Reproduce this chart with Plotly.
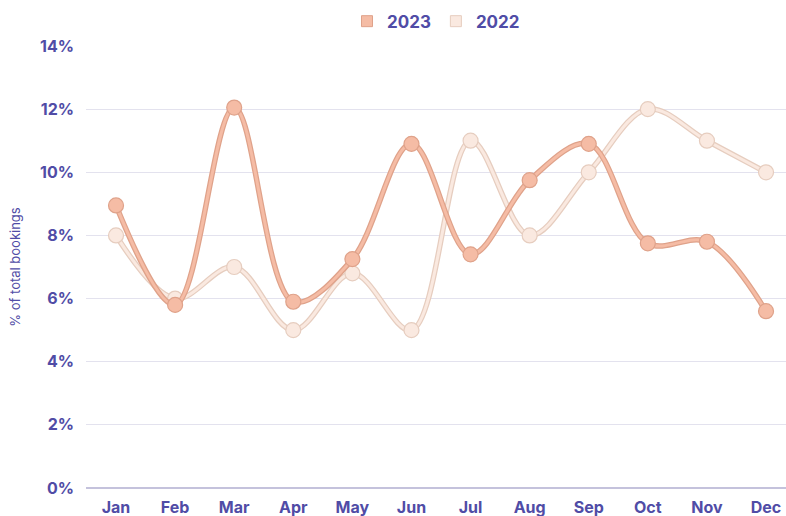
import plotly.graph_objects as go

months = ["Jan", "Feb", "Mar", "Apr", "May", "Jun", "Jul", "Aug", "Sep", "Oct", "Nov", "Dec"]
y2023 = [8.95, 5.8, 12.05, 5.9, 7.25, 10.9, 7.4, 9.75, 10.9, 7.75, 7.8, 5.6]
y2022 = [8.0, 6.0, 7.0, 5.0, 6.8, 5.0, 11.0, 8.0, 10.0, 12.0, 11.0, 10.0]
yticks = [0, 2, 4, 6, 8, 10, 12, 14]
yticklabels = ["0%", "2%", "4%", "6%", "8%", "10%", "12%", "14%"]

x = list(range(len(months)))
txt = "#504ca6"
font = "Inter"

fig = go.Figure()

series = [
    ("2022", y2022, "#fae9e0", "#e6cdbf"),
    ("2023", y2023, "#f5bca5", "#dfa28a"),
]
for name, ys, fill, edge in series:
    fig.add_trace(go.Scatter(x=x, y=ys, mode="lines", line=dict(color=edge, width=5.5, shape="spline", smoothing=1.0),
                             showlegend=False, hoverinfo="skip"))
    fig.add_trace(go.Scatter(x=x, y=ys, mode="lines+markers", name=name,
                             line=dict(color=fill, width=3, shape="spline", smoothing=1.0),
                             marker=dict(size=15, color=fill, line=dict(color=edge, width=1.2)),
                             showlegend=False))

# legend entries
for name, fill, edge in [("2023", "#f5bca5", "#dfa28a"), ("2022", "#fae9e0", "#e6cdbf")]:
    fig.add_trace(go.Scatter(x=[None], y=[None], mode="markers", name=name,
                             marker=dict(symbol="square", size=11, color=fill, line=dict(color=edge, width=1))))

fig.update_layout(
    width=786, height=516,
    margin=dict(l=86, r=0, t=46, b=28, autoexpand=False),
    paper_bgcolor="white", plot_bgcolor="white",
    font=dict(family=font, color=txt),
    legend=dict(orientation="h", x=0.5, xanchor="center", y=0.993, yanchor="top", yref="container",
                xref="paper",
                font=dict(family=font, size=17, color=txt, weight="bold"), itemwidth=30,
                traceorder="normal"),
    showlegend=True,
)
fig.update_xaxes(range=[-0.508, 11.338], tickvals=x, ticktext=months, showgrid=False, zeroline=False,
                 showline=False, ticks="", automargin=False, ticklabelstandoff=8,
                 tickfont=dict(family=font, size=16, color=txt, weight="bold"))
fig.update_yaxes(range=[0, 14], tickvals=yticks, ticktext=yticklabels, showgrid=True, gridcolor="#e3e2ee",
                 gridwidth=1, zeroline=True, zerolinecolor="#c4c2dc", zerolinewidth=1.5, ticks="",
                 ticklabelstandoff=11, automargin=False,
                 tickfont=dict(family=font, size=16, color=txt, weight="bold"),
                 title=dict(text="% of total bookings", font=dict(family=font, size=13, color=txt), standoff=16))

fig.write_html("out.html", config={"displayModeBar": False},
               post_script="document.body.style.margin='0';")
